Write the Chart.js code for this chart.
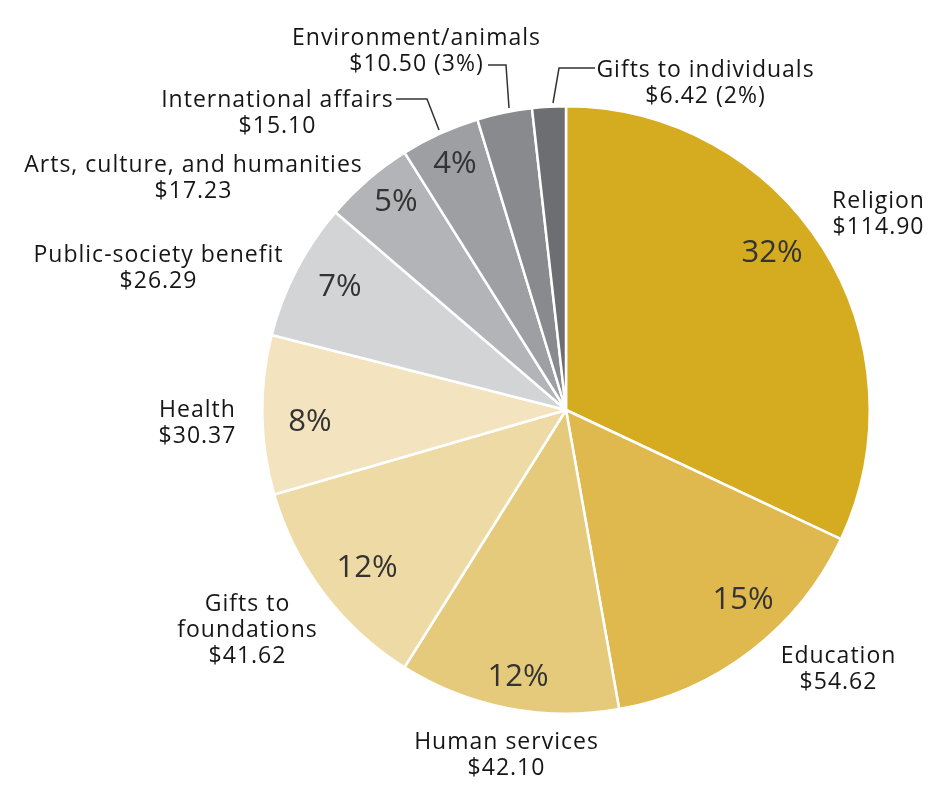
<!DOCTYPE html>
<html>
<head>
<meta charset="utf-8">
<title>Giving by recipient</title>
<script src="https://cdn.jsdelivr.net/npm/chart.js@4/dist/chart.umd.min.js"></script>
<style>
    html, body { margin: 0; padding: 0; background: #fff; }
    #wrap { width: 945px; height: 794px; position: relative; }
</style>
</head>
<body>
<div id="wrap"><canvas id="chart"></canvas></div>
<script>
// Data (billions of dollars), in pie order starting at 12 o'clock, clockwise
const categories = ['Religion', 'Education', 'Human services', 'Gifts to foundations', 'Health',
    'Public-society benefit', 'Arts, culture, and humanities', 'International affairs',
    'Environment/animals', 'Gifts to individuals'];
const amounts = [114.90, 54.62, 42.10, 41.62, 30.37, 26.29, 17.23, 15.10, 10.50, 6.42];
const amountLabels = ['$114.90', '$54.62', '$42.10', '$41.62', '$30.37', '$26.29', '$17.23', '$15.10', '$10.50 (3%)', '$6.42 (2%)'];
const percentLabels = ['32%', '15%', '12%', '12%', '8%', '7%', '5%', '4%', '', ''];
const nameLines = [['Religion'], ['Education'], ['Human services'], ['Gifts to', 'foundations'], ['Health'],
    ['Public-society benefit'], ['Arts, culture, and humanities'], ['International affairs'],
    ['Environment/animals'], ['Gifts to individuals']];

const sliceColors = ['#d5ab20', '#dfb84e', '#e5ca7c', '#eddaa5', '#f3e3bf',
    '#d3d4d6', '#b3b4b7', '#9e9fa3', '#898a8e', '#6d6e72'];

// Label placement, px relative to the pie centre
const pctPos = [[206, -148], [177, 199], [-48, 276], [-199, 167], [-256, 21],
    [-226, -114], [-170, -199], [-111, -237], null, null];
const namePos = [[312, -202], [272, 253], [-60, 339], [-319, 201], [-369, 7],
    [-408, -148], [-373, -238], [-289, -303], [-150, -365], [139, -333]];
const leaders = {
    7: [[-170, -311], [-139, -311], [-127, -280]],
    8: [[-78, -345], [-60, -345], [-57, -302]],
    9: [[29, -342], [-7, -342], [-13, -307]]
};

const labelPlugin = {
    id: 'sliceLabels',
    afterDatasetsDraw(chart) {
        const c = chart.ctx;
        const arcs = chart.getDatasetMeta(0).data;
        const cx = arcs[0].x, cy = arcs[0].y;
        c.save();
        c.textAlign = 'center';
        c.textBaseline = 'alphabetic';

        // percentages inside the slices
        c.fillStyle = '#333333';
        c.font = '31px "Open Sans", sans-serif';
        c.letterSpacing = '0px';
        percentLabels.forEach((txt, i) => {
            if (!txt || !pctPos[i]) return;
            c.fillText(txt, cx + pctPos[i][0], cy + pctPos[i][1]);
        });

        // category name + amount outside
        c.fillStyle = '#161616';
        c.font = '23px "Open Sans", sans-serif';
        c.letterSpacing = '1px';
        const lh = 26;
        nameLines.forEach((lines, i) => {
            const all = lines.concat([amountLabels[i]]);
            all.forEach((ln, j) => {
                c.fillText(ln, cx + namePos[i][0] + 0.5, cy + namePos[i][1] + j * lh);
            });
        });

        // leader lines for the small slices
        c.strokeStyle = '#333333';
        c.lineWidth = 1.5;
        Object.keys(leaders).forEach(k => {
            const pts = leaders[k];
            c.beginPath();
            c.moveTo(cx + pts[0][0], cy + pts[0][1]);
            for (let p = 1; p < pts.length; p++) c.lineTo(cx + pts[p][0], cy + pts[p][1]);
            c.stroke();
        });
        c.restore();
    }
};

new Chart(document.getElementById('chart').getContext('2d'), {
    type: 'pie',
    data: {
        labels: categories,
        datasets: [{
            data: amounts,
            backgroundColor: sliceColors,
            borderColor: '#ffffff',
            borderWidth: 2.5
        }]
    },
    options: {
        responsive: true,
        maintainAspectRatio: false,
        animation: false,
        layout: { padding: { left: 261, right: 74, top: 105, bottom: 79 } },
        plugins: {
            legend: { display: false },
            tooltip: { enabled: false }
        }
    },
    plugins: [labelPlugin]
});
</script>
</body>
</html>
